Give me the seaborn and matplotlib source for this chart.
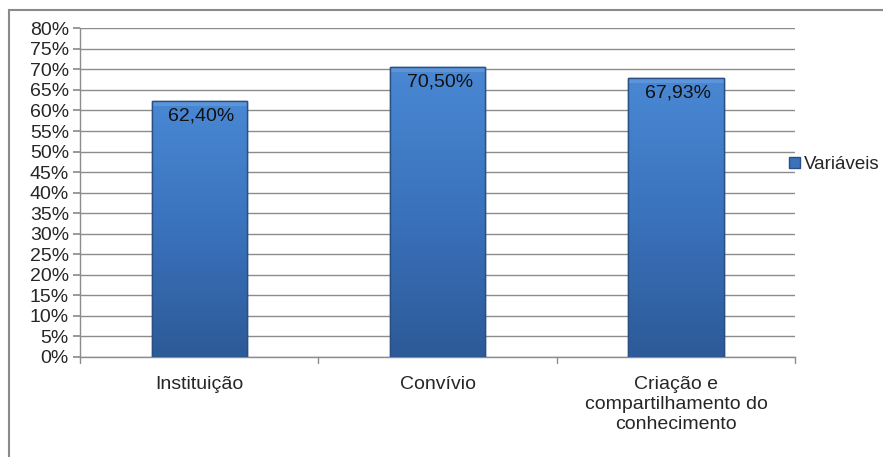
import matplotlib
matplotlib.use("Agg")
import matplotlib.pyplot as plt
import seaborn as sns
import numpy as np
import pandas as pd
from matplotlib.patches import Rectangle

categorias = ["Instituição", "Convívio", "Criação e\ncompartilhamento do\nconhecimento"]
valores = [62.40, 70.50, 67.93]
rotulos = ["62,40%", "70,50%", "67,93%"]
serie = "Variáveis"
yticks = list(range(0, 81, 5))

df = pd.DataFrame({"cat": categorias, "val": valores})

sns.set_theme(style="white")
plt.rcParams["font.family"] = ["Liberation Sans", "DejaVu Sans"]
fs = 14

fig = plt.figure(figsize=(8.83, 4.57), dpi=100)
ax = fig.add_axes([0.0906, 0.219, 0.810, 0.719])

sns.barplot(data=df, x="cat", y="val", color="#3a70b8", width=0.4,
            saturation=1, ax=ax, zorder=3)

# gradient fill on each bar
grad = np.linspace(0, 1, 256).reshape(-1, 1)
cmap = matplotlib.colors.LinearSegmentedColormap.from_list(
    "b", ["#2d5a98", "#3a72bc", "#4a88d4"])
for p in ax.patches:
    x0, y0 = p.get_x(), p.get_y()
    w, h = p.get_width(), p.get_height()
    im = ax.imshow(grad, cmap=cmap, aspect="auto", origin="lower",
                   extent=[x0, x0 + w, y0, y0 + h], zorder=3.5)
    im.set_clip_path(p)
    p.set_edgecolor("#2a4f82")
    p.set_linewidth(1.0)
    # light bevel at the top
    ax.add_patch(Rectangle((x0, y0 + h - 1.2), w, 1.2, facecolor="#6aa0e0",
                           edgecolor="none", alpha=0.6, zorder=3.8))
    ax.add_patch(Rectangle((x0, y0), w, h, fill=False, edgecolor="#2a4f82",
                           linewidth=1.0, zorder=4))

for i, (v, r) in enumerate(zip(valores, rotulos)):
    ax.text(i + 0.01, v - 1.6, r, ha="center", va="top", fontsize=fs,
            color="#111111", zorder=5)

ax.set_xlim(-0.5, 2.5)
ax.set_ylim(0, 80)
ax.set_yticks(yticks)
ax.set_yticklabels([f"{t}%" for t in yticks], fontsize=fs)
ax.set_xticks([0, 1, 2])
ax.set_xticklabels(categorias, fontsize=fs, linespacing=1.2)
ax.set_xlabel("")
ax.set_ylabel("")
ax.yaxis.grid(True, color="#8c8c8c", linewidth=1.0)
ax.set_axisbelow(True)
for s in ["top", "right"]:
    ax.spines[s].set_visible(False)
for s in ["left", "bottom"]:
    ax.spines[s].set_color("#8c8c8c")
    ax.spines[s].set_linewidth(1.0)
ax.tick_params(axis="y", left=True, length=5, color="#8c8c8c", pad=3)
ax.tick_params(axis="x", bottom=False, pad=8)
# category separator ticks on x axis
for b in [-0.5, 0.5, 1.5, 2.5]:
    ax.plot([b, b], [0, -1.5], color="#8c8c8c", linewidth=1.0,
            clip_on=False, zorder=2)

# legend
h = Rectangle((0, 0), 1, 1, facecolor="#3a72bc", edgecolor="#2a4f82")
fig.legend([h], [serie], loc="center left", bbox_to_anchor=(0.879, 0.64),
           frameon=False, fontsize=13.5, handlelength=0.55, handleheight=0.55,
           handletextpad=0.25, borderpad=0.2)

# outer chart border
fig.add_artist(Rectangle((9 / 883, -0.1), 1.0, 1.1 - 10 / 457,
                         transform=fig.transFigure, fill=False,
                         edgecolor="#8a8a8a", linewidth=1.5, clip_on=False))

fig.savefig("out.png", dpi=100)
